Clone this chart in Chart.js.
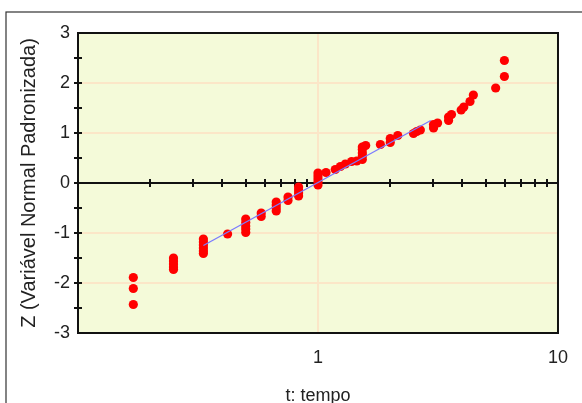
<!DOCTYPE html>
<html>
<head>
<meta charset="utf-8">
<script src="https://cdn.jsdelivr.net/npm/chart.js@4"></script>
<style>
  body { margin: 0; background: #fff; }
  canvas { display: block; }
</style>
</head>
<body>
<canvas id="myChart" width="582" height="403"></canvas>
<script>
// t: tempo
let tempo = [
  0.17, 0.17, 0.17,
  0.25, 0.25, 0.25, 0.25, 0.25,
  0.333, 0.333, 0.333, 0.333, 0.333, 0.333,
  0.42,
  0.5, 0.5, 0.5, 0.5, 0.5,
  0.58, 0.58,
  0.67, 0.67, 0.67, 0.67,
  0.75, 0.75,
  0.83, 0.83, 0.83, 0.83,
  1.0, 1.0, 1.0, 1.0, 1.0,
  1.08, 1.18, 1.24, 1.30, 1.38, 1.45,
  1.53, 1.53, 1.53, 1.53, 1.53,
  1.58, 1.82, 2.0, 2.0, 2.15, 2.5, 2.58, 2.67,
  3.03, 3.03, 3.15, 3.5, 3.5, 3.6, 3.95, 4.05, 4.3, 4.44,
  5.5, 5.98, 5.98
];
// Z (variavel normal padronizada)
let zScore = [
  -1.89, -2.11, -2.43,
  -1.5, -1.56, -1.62, -1.68, -1.73,
  -1.12, -1.18, -1.24, -1.3, -1.36, -1.41,
  -1.02,
  -0.72, -0.79, -0.86, -0.92, -0.99,
  -0.6, -0.67,
  -0.38, -0.44, -0.5, -0.56,
  -0.28, -0.35,
  -0.08, -0.14, -0.2, -0.26,
  0.2, 0.14, 0.08, 0.02, -0.04,
  0.21, 0.27, 0.33, 0.38, 0.43, 0.44,
  0.47, 0.54, 0.6, 0.67, 0.72,
  0.75, 0.77, 0.81, 0.89, 0.95, 0.99, 1.03, 1.06,
  1.1, 1.17, 1.2, 1.25, 1.32, 1.37, 1.46, 1.52, 1.63, 1.76,
  1.9, 2.13, 2.45
];
// fitted line
let fitTempo = [0.333, 2.95];
let fitZ = [-1.25, 1.25];

let xTickLabels = [1, 10];
let yTickLabels = [-3, -2, -1, 0, 1, 2, 3];
let xMinorTicks = [0.2, 0.3, 0.4, 0.5, 0.6, 0.7, 0.8, 0.9, 2, 3, 4, 5, 6, 7, 8, 9];

let gridColor = '#fbe6c8';
let textColor = '#222';

let chartDecor = {
  id: 'chartDecor',
  beforeDraw: (chart) => {
    let ctx = chart.ctx;
    let a = chart.chartArea;
    ctx.save();
    // outer frame
    ctx.strokeStyle = '#333';
    ctx.lineWidth = 1.2;
    ctx.strokeRect(6, 12, 600, 500);
    // plot background
    ctx.fillStyle = '#f4fad9';
    ctx.fillRect(a.left, a.top, a.right - a.left, a.bottom - a.top);
    ctx.restore();
  },
  beforeDatasetsDraw: (chart) => {
    let ctx = chart.ctx;
    let a = chart.chartArea;
    let xs = chart.scales.x;
    let ys = chart.scales.y;
    let y0 = ys.getPixelForValue(0);
    ctx.save();
    ctx.strokeStyle = '#111';
    ctx.lineWidth = 2;
    ctx.beginPath();
    ctx.moveTo(a.left, y0);
    ctx.lineTo(a.right, y0);
    xMinorTicks.forEach(v => {
      let px = Math.round(xs.getPixelForValue(v));
      ctx.moveTo(px, y0 - 4);
      ctx.lineTo(px, y0 + 4);
    });
    for (let v = -2.5; v <= 2.5; v += 0.5) {
      let py = Math.round(ys.getPixelForValue(v));
      ctx.moveTo(a.left - 4, py);
      ctx.lineTo(a.left + 4, py);
    }
    ctx.stroke();
    ctx.restore();
  },
  afterDraw: (chart) => {
    let ctx = chart.ctx;
    let a = chart.chartArea;
    ctx.save();
    ctx.strokeStyle = '#111';
    ctx.lineWidth = 2;
    ctx.strokeRect(a.left, a.top, a.right - a.left, a.bottom - a.top);
    ctx.restore();
  }
};

let ctx = document.getElementById('myChart').getContext('2d');
let chart = new Chart(ctx, {
  data: {
    datasets: [{
      type: 'line',
      label: 'ajuste',
      data: fitTempo.map((t, i) => ({ x: t, y: fitZ[i] })),
      borderColor: '#7b7bff',
      borderWidth: 1.3,
      pointRadius: 0,
      fill: false
    }, {
      type: 'scatter',
      label: 'dados',
      data: tempo.map((t, i) => ({ x: t, y: zScore[i] })),
      backgroundColor: '#ff0000',
      borderWidth: 0,
      pointRadius: 4.6
    }]
  },
  options: {
    responsive: false,
    animation: false,
    layout: { padding: { left: 0, top: 33, right: 22, bottom: 0 } },
    plugins: { legend: { display: false }, tooltip: { enabled: false } },
    scales: {
      x: {
        type: 'logarithmic',
        min: 0.1,
        max: 10,
        afterFit: (scale) => { scale.height = 70; },
        border: { display: false },
        grid: {
          drawTicks: false,
          lineWidth: 2,
          color: (c) => (c.tick && c.tick.value === 1) ? gridColor : 'rgba(0,0,0,0)'
        },
        ticks: {
          autoSkip: false,
          maxRotation: 0,
          padding: 14,
          color: textColor,
          font: { family: 'Arial, "Liberation Sans"', size: 18 },
          callback: (v) => xTickLabels.includes(v) ? String(v) : ''
        },
        title: {
          display: true,
          text: 't: tempo',
          color: textColor,
          font: { family: 'Arial, "Liberation Sans"', size: 18 },
          padding: { top: 0, bottom: -4 }
        }
      },
      y: {
        min: -3,
        max: 3,
        afterFit: (scale) => { scale.width = 78; },
        border: { display: false },
        grid: {
          drawTicks: false,
          lineWidth: 2,
          color: (c) => {
            let v = c.tick ? c.tick.value : null;
            return (v === 1 || v === 2 || v === -1 || v === -2) ? gridColor : 'rgba(0,0,0,0)';
          }
        },
        ticks: {
          stepSize: 0.5,
          padding: 8,
          color: textColor,
          font: { family: 'Arial, "Liberation Sans"', size: 18 },
          callback: (v) => yTickLabels.includes(v) ? String(v) : ''
        },
        title: {
          display: true,
          text: 'Z (Variável Normal Padronizada)',
          color: textColor,
          font: { family: 'Arial, "Liberation Sans"', size: 20 },
          padding: { top: 17, bottom: 0 }
        }
      }
    }
  },
  plugins: [chartDecor]
});
</script>
</body>
</html>
